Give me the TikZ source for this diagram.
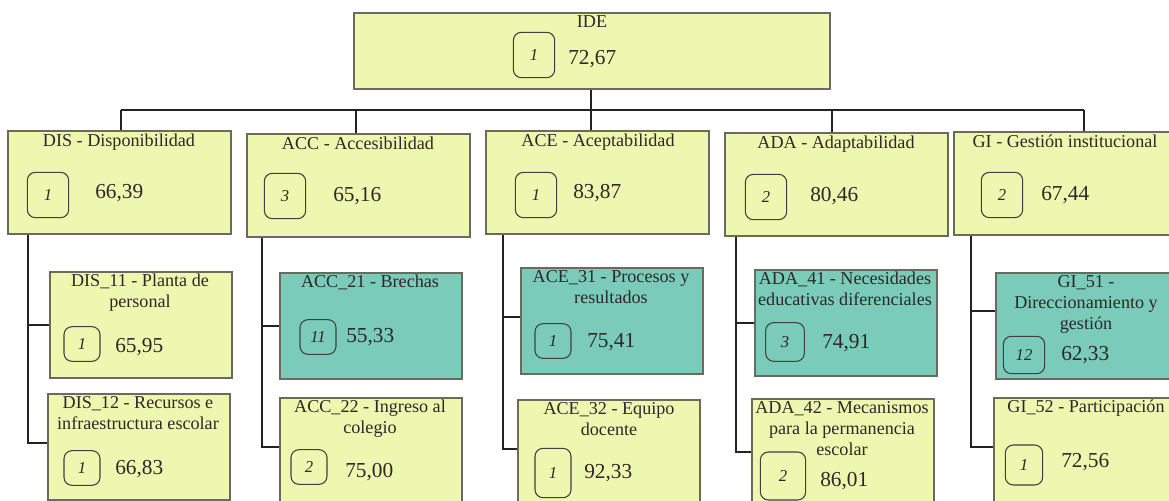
\documentclass[tikz,border=0pt]{standalone}
\usepackage{fontspec}
\setmainfont{Liberation Serif}

\definecolor{cellyel}{RGB}{238,247,176}
\definecolor{cellteal}{RGB}{122,203,186}
\definecolor{celledge}{RGB}{105,108,92}
\definecolor{wirecol}{RGB}{35,35,35}
\definecolor{inkcol}{RGB}{45,40,40}

\tikzset{
  cell/.style={draw=celledge, line width=1.5, fill=cellyel, anchor=north west, inner sep=0pt, minimum width=136.5pt, minimum height=79.5pt},
  topcell/.style={cell, minimum width=167.25pt, minimum height=77.25pt},
  tealcell/.style={cell, fill=cellteal},
  ttl/.style={anchor=north, align=center, inner sep=0pt, text=inkcol, font=\fontsize{13.6}{15.8}\selectfont},
  val/.style={anchor=west, inner sep=0pt, text=inkcol, font=\fontsize{16}{18}\selectfont},
  rank/.style={draw=black!75, line width=0.8, rounded corners=6pt, inner sep=0pt, minimum width=27pt, minimum height=26pt, text=inkcol, font=\fontsize{12.5}{13}\selectfont\itshape},
  toprank/.style={rank, minimum width=31pt, minimum height=34pt},
  wire/.style={draw=wirecol, line width=1.6},
}

\begin{document}
\begin{tikzpicture}[x=0.75pt,y=0.75pt,yscale=-1,xscale=1]
\useasboundingbox (0,0) rectangle (1169,500);
\clip (0,0) rectangle (1169,500);

% root
\node [topcell, minimum width=357pt, minimum height=57pt] (ide) at (353,12) {};
\node [ttl] (idet) at (592,15) {IDE};
\node [toprank] (idek) at (534,55) {1};
\node [val] (idev) at (568,59) {72,67};

% top level
\node [topcell] (dis) at (7,130) {};
\node [ttl] (dist) at (119,134) {DIS - Disponibilidad};
\node [toprank] (disk) at (48,195) {1};
\node [val] (disv) at (95,193) {66,39};

\node [topcell] (acc) at (246,133) {};
\node [ttl] (acct) at (358,137) {ACC - Accesibilidad};
\node [toprank] (acck) at (285,196) {3};
\node [val] (accv) at (333,196) {65,16};

\node [topcell] (ace) at (485,130) {};
\node [ttl] (acet) at (598,134) {ACE - Aceptabilidad};
\node [toprank] (acek) at (536,195) {1};
\node [val] (acev) at (573,193) {83,87};

\node [topcell] (ada) at (724,132) {};
\node [ttl] (adat) at (836,136) {ADA - Adaptabilidad};
\node [toprank] (adak) at (766,197) {2};
\node [val] (adav) at (810,196) {80,46};

\node [topcell, minimum width=196.5pt] (gi) at (953,131) {};
\node [ttl] (git) at (1065,135) {GI - Gestión institucional};
\node [toprank] (gik) at (1002,195) {2};
\node [val] (giv) at (1041,195) {67,44};

% second level
\node [cell] (dis11) at (49,271) {};
\node [ttl] (dis11t) at (140,274) {DIS\_11 - Planta de\\personal};
\node [rank] (dis11k) at (82,344) {1};
\node [val] (dis11v) at (115,347) {65,95};

\node [cell] (dis12) at (47,393) {};
\node [ttl] (dis12t) at (138,396) {DIS\_12 - Recursos e\\infraestructura escolar};
\node [rank] (dis12k) at (82,468) {1};
\node [val] (dis12v) at (115,469) {66,83};

\node [tealcell] (acc21) at (279,272) {};
\node [ttl] (acc21t) at (370,275) {ACC\_21 - Brechas};
\node [rank] (acc21k) at (318,337) {11};
\node [val] (acc21v) at (346,337) {55,33};

\node [cell] (acc22) at (279,397) {};
\node [ttl] (acc22t) at (370,400) {ACC\_22 - Ingreso al\\colegio};
\node [rank] (acc22k) at (309,467) {2};
\node [val] (acc22v) at (345,472) {75,00};

\node [tealcell] (ace31) at (520,267) {};
\node [ttl] (ace31t) at (611,270) {ACE\_31 - Procesos y\\resultados};
\node [rank] (ace31k) at (553,341) {1};
\node [val] (ace31v) at (587,342) {75,41};

\node [cell] (ace32) at (517,399) {};
\node [ttl] (ace32t) at (609,402) {ACE\_32 - Equipo\\docente};
\node [rank, minimum height=37pt] (ace32k) at (553,473) {1};
\node [val] (ace32v) at (584,473) {92,33};

\node [tealcell] (ada41) at (754,269) {};
\node [ttl] (ada41t) at (845,272) {ADA\_41 - Necesidades\\educativas diferenciales};
\node [rank, minimum width=29pt, minimum height=29pt] (ada41k) at (785,342) {3};
\node [val] (ada41v) at (822,343) {74,91};

\node [cell] (ada42) at (751,398) {};
\node [ttl] (ada42t) at (842,401) {ADA\_42 - Mecanismos\\para la permanencia\\escolar};
\node [rank, minimum width=34pt, minimum height=36pt] (ada42k) at (783,476) {2};
\node [val] (ada42v) at (820,481) {86,01};

\node [tealcell] (gi51) at (995,272) {};
\node [ttl] (gi51t) at (1086,275) {GI\_51 -\\Direccionamiento y\\gestión};
\node [rank, minimum width=31pt, minimum height=28pt] (gi51k) at (1024,355) {12};
\node [val] (gi51v) at (1061,355) {62,33};

\node [cell] (gi52) at (993,397) {};
\node [ttl] (gi52t) at (1086,400) {GI\_52 - Participación};
\node [rank, minimum width=28pt, minimum height=30pt] (gi52k) at (1024,465) {1};
\node [val] (gi52v) at (1061,462) {72,56};

% connectors
\coordinate (bus) at (591,110);
\draw [wire] (ide.south -| bus) -- (bus);
\draw [wire] (121,110) -- (1084,110);
\draw [wire] (121,110) -- (121,130);
\draw [wire] (356,110) -- (acc.north -| 356,0);
\draw [wire] (591,110) -- (ace.north -| 591,0);
\draw [wire] (832,110) -- (ada.north -| 832,0);
\draw [wire] (1084,110) -- (gi.north -| 1084,0);

\draw [wire] (dis.south -| 28,0) |- (dis11.west);
\draw [wire] (dis.south -| 28,0) |- ([yshift=-3pt]dis12.west);
\draw [wire] (acc.south -| 262,0) |- (acc21.west);
\draw [wire] (acc.south -| 262,0) |- ([yshift=-3pt]acc22.west);
\draw [wire] (ace.south -| 503,0) |- ([yshift=-3pt]ace31.west);
\draw [wire] (ace.south -| 503,0) |- ([yshift=-3pt]ace32.west);
\draw [wire] (ada.south -| 736,0) |- (ada41.west);
\draw [wire] (ada.south -| 736,0) |- (ada42.west);
\draw [wire] (gi.south -| 971,0) |- ([yshift=-11pt]gi51.west);
\draw [wire] (gi.south -| 971,0) |- ([yshift=-3pt]gi52.west);

\end{tikzpicture}
\end{document}
